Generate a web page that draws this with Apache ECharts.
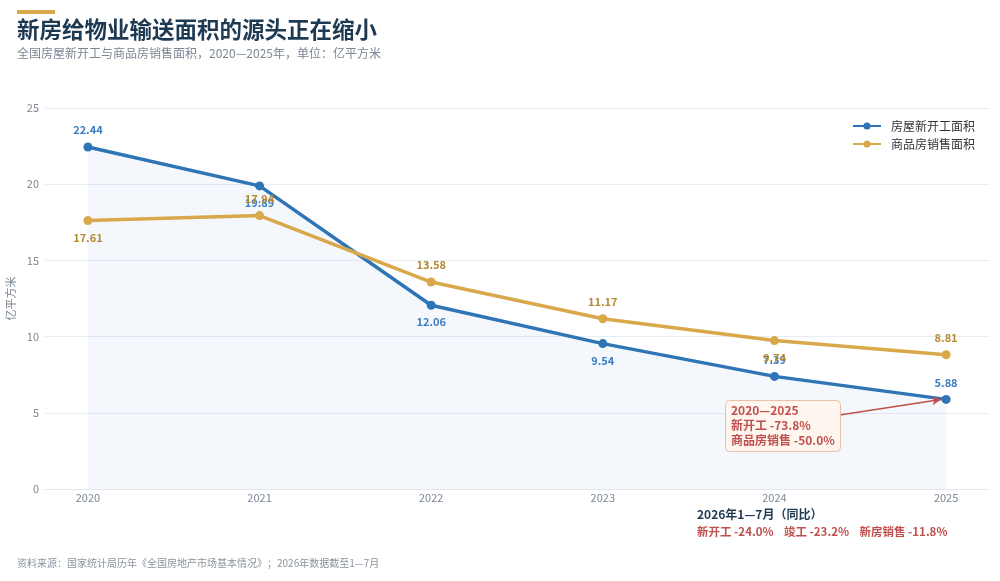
<!DOCTYPE html>
<html>
<head>
<meta charset="utf-8">
<script src="https://cdn.jsdelivr.net/npm/echarts@6/dist/echarts.min.js"></script>
<style>
    html, body { margin: 0; padding: 0; background: #fff; }
    #chart { width: 1000px; height: 581px; }
</style>
</head>
<body>
<div id="chart"></div>
<script>
// Data
const years = [2020, 2021, 2022, 2023, 2024, 2025]
const newStarts = [22.44, 19.89, 12.06, 9.54, 7.39, 5.88]
const sales = [17.61, 17.94, 13.58, 11.17, 9.74, 8.81]
// label above (true) or below (false) the point
const newStartsUp = [true, false, false, false, true, true]
const salesUp = [false, true, true, true, false, true]
const yTicks = { min: 0, max: 25, interval: 5 }

const font = '"Noto Sans CJK SC", "Noto Sans", sans-serif'
const blue = '#2f74b5',
    gold = '#d9a84b',
    red = '#c0504d'

const toPoints = (values, ups, color) =>
    values.map((v, i) => ({
        value: [years[i], v],
        label: {
            show: true,
            position: ups[i] ? 'top' : 'bottom',
            distance: 7,
            color: color,
            fontSize: 11,
            fontWeight: 'bold',
            fontFamily: font,
            formatter: v.toFixed(2),
        },
    }))

const myChart = echarts.init(document.getElementById('chart'))
const option = {
    animation: false,
    textStyle: { fontFamily: font },
    grid: { left: 45, right: 11, top: 108, bottom: 92, outerBoundsMode: 'none' },
    graphic: [
        { type: 'rect', left: 17, top: 10, z: 100, shape: { width: 38, height: 4 }, style: { fill: gold } },
        {
            type: 'text',
            left: 17,
            top: 18,
            z: 100,
            style: { text: '新房给物业输送面积的源头正在缩小', fill: '#1e3a52', fontSize: 22.5, fontWeight: 'bold', fontFamily: font },
        },
        {
            type: 'text',
            left: 17,
            top: 47,
            z: 100,
            style: { text: '全国房屋新开工与商品房销售面积，2020—2025年，单位：亿平方米', fill: '#7b8794', fontSize: 12, fontFamily: font },
        },
        {
            type: 'rect',
            left: 725,
            top: 400,
            z: 100,
            shape: { width: 115, height: 51, r: 4 },
            style: { fill: '#fff6f0', stroke: '#ebbfa5', lineWidth: 1 },
        },
        {
            type: 'text',
            left: 731,
            top: 403,
            z: 101,
            style: {
                text: '2020—2025\n新开工 -73.8%\n商品房销售 -50.0%',
                fill: red,
                fontSize: 12,
                fontWeight: 'bold',
                lineHeight: 15,
                fontFamily: font,
            },
        },
        {
            type: 'text',
            left: 697,
            top: 508,
            z: 100,
            style: { text: '2026年1—7月（同比）', fill: '#1e3a52', fontSize: 12, fontWeight: 'bold', fontFamily: font },
        },
        {
            type: 'text',
            left: 697,
            top: 526,
            z: 100,
            style: {
                text: '新开工 -24.0%    竣工 -23.2%    新房销售 -11.8%',
                fill: red,
                fontSize: 11.5,
                fontWeight: 'bold',
                fontFamily: font,
            },
        },
        {
            type: 'text',
            left: 17,
            top: 558,
            z: 100,
            style: {
                text: '资料来源：国家统计局历年《全国房地产市场基本情况》；2026年数据截至1—7月',
                fill: '#8a939c',
                fontSize: 10,
                fontFamily: font,
            },
        },
    ],
    legend: {
        top: 115,
        right: 20,
        orient: 'vertical',
        itemWidth: 28,
        itemHeight: 9,
        itemGap: 6,
        textStyle: { fontSize: 12, color: '#333', fontFamily: font, padding: [0, 0, 0, 5] },
        data: ['房屋新开工面积', '商品房销售面积'],
    },
    xAxis: {
        type: 'value',
        min: 2019.75,
        max: 2025.25,
        interval: 0.25,
        splitLine: { show: false },
        axisTick: { show: false },
        axisLine: { show: true, lineStyle: { color: '#e3e8ee' } },
        axisLabel: {
            color: '#7b8794',
            fontSize: 11,
            margin: 3,
            showMinLabel: false,
            showMaxLabel: false,
            formatter: (v) => (Number.isInteger(v) ? String(v) : ''),
        },
    },
    yAxis: {
        type: 'value',
        min: yTicks.min,
        max: yTicks.max,
        interval: yTicks.interval,
        name: '亿平方米',
        nameLocation: 'middle',
        nameGap: 25,
        nameTextStyle: { color: '#7b8794', fontSize: 11, fontFamily: font },
        axisLine: { show: false },
        axisTick: { show: false },
        axisLabel: { color: '#7b8794', fontSize: 11, margin: 6 },
        splitLine: { lineStyle: { color: '#e9eef4' } },
    },
    series: [
        {
            name: '房屋新开工面积',
            type: 'line',
            data: toPoints(newStarts, newStartsUp, '#3a7dc2'),
            symbol: 'circle',
            symbolSize: 9,
            lineStyle: { width: 3.5, color: blue },
            itemStyle: { color: blue },
            areaStyle: { color: 'rgba(47,116,181,0.08)' },
            z: 3,
            markLine: {
                silent: true,
                symbol: ['none', 'arrow'],
                symbolSize: [7, 9],
                label: { show: false },
                lineStyle: { color: '#c0504d', width: 1.5, type: 'solid' },
                data: [[{ coord: [2024.38, 4.86] }, { coord: [2024.97, 5.88] }]],
            },
        },
        {
            name: '商品房销售面积',
            type: 'line',
            data: toPoints(sales, salesUp, '#b48a30'),
            symbol: 'circle',
            symbolSize: 9,
            lineStyle: { width: 3.5, color: gold },
            itemStyle: { color: gold },
            z: 4,
        },
    ],
}
myChart.setOption(option)
</script>
</body>
</html>
